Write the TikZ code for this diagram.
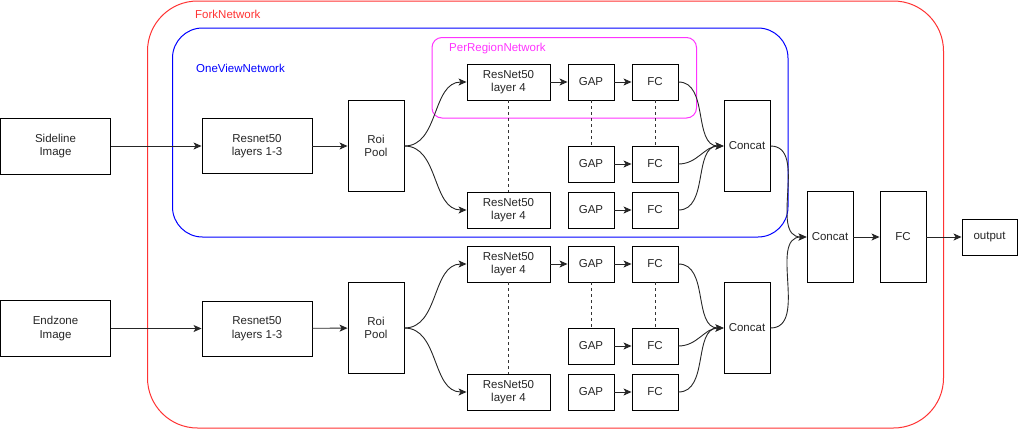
\documentclass[tikz,border=0pt]{standalone}
\usepackage{fontspec}
\setmainfont{Liberation Sans}
\usetikzlibrary{arrows.meta}
\definecolor{forkred}{HTML}{FF3333}
\definecolor{oneblue}{HTML}{0000FF}
\definecolor{permag}{HTML}{FF33FF}
\tikzset{
  box/.style={draw=black, line width=0.9pt, fill=white, align=center, inner sep=0pt,
    font=\fontsize{11.5}{13.5}\selectfont, text=black!85},
  lbl/.style={anchor=west, inner sep=0pt, font=\fontsize{11.5}{13.5}\selectfont},
  conn/.style={draw=black!85, line width=0.9pt, -{Stealth[length=8pt,width=7pt,inset=2pt]}},
  curv/.style={conn, out=0, in=180, looseness=1},
  dashl/.style={draw=black!80, line width=0.8pt, dash pattern=on 3pt off 3pt},
}
\begin{document}
\begin{tikzpicture}[x=1pt,y=-1pt]
\useasboundingbox (0,0) rectangle (1018,429);
% containers
\draw[forkred, line width=1pt, rounded corners=50pt] (147.5,1) rectangle (943.5,428);
\draw[oneblue, line width=1pt, rounded corners=30pt] (172.5,28) rectangle (788,237);
\draw[permag, line width=1pt, rounded corners=10pt] (432,37.5) rectangle (696.5,118);
\node[lbl, text=forkred] (lfork) at (195,14) {ForkNetwork};
\node[lbl, text=oneblue] (lone) at (196,68) {OneViewNetwork};
\node[lbl, text=permag] (lper) at (449,49) {PerRegionNetwork};

% top view
\node[box, minimum width=110, minimum height=56] (side) at (55.5,146) {Sideline\\Image};
\node[box, minimum width=110, minimum height=55] (resa) at (257,146) {Resnet50\\layers 1-3};
\node[box, minimum width=56, minimum height=91] (roia) at (376,146) {Roi\\Pool};
\node[box, minimum width=83, minimum height=36] (ra1) at (508.5,82) {ResNet50\\layer 4};
\node[box, minimum width=46, minimum height=36] (ga1) at (591,82) {GAP};
\node[box, minimum width=46, minimum height=36] (fa1) at (655,82) {FC};
\node[box, minimum width=46, minimum height=36] (ga2) at (591,164) {GAP};
\node[box, minimum width=46, minimum height=36] (fa2) at (655,164) {FC};
\node[box, minimum width=83, minimum height=36] (ra3) at (508.5,210) {ResNet50\\layer 4};
\node[box, minimum width=46, minimum height=36] (ga3) at (591,210) {GAP};
\node[box, minimum width=46, minimum height=36] (fa3) at (655,210) {FC};
\node[box, minimum width=46, minimum height=91] (cata) at (747,146) {Concat};

% bottom view
\node[box, minimum width=110, minimum height=56] (endz) at (55.5,328.5) {Endzone\\Image};
\node[box, minimum width=110, minimum height=55] (resb) at (257,328.5) {Resnet50\\layers 1-3};
\node[box, minimum width=56, minimum height=91] (roib) at (376,328) {Roi\\Pool};
\node[box, minimum width=83, minimum height=36] (rb1) at (508.5,264) {ResNet50\\layer 4};
\node[box, minimum width=46, minimum height=36] (gb1) at (591,264) {GAP};
\node[box, minimum width=46, minimum height=36] (fb1) at (655,264) {FC};
\node[box, minimum width=46, minimum height=36] (gb2) at (591,346) {GAP};
\node[box, minimum width=46, minimum height=36] (fb2) at (655,346) {FC};
\node[box, minimum width=83, minimum height=36] (rb3) at (508.5,392) {ResNet50\\layer 4};
\node[box, minimum width=46, minimum height=36] (gb3) at (591,392) {GAP};
\node[box, minimum width=46, minimum height=36] (fb3) at (655,392) {FC};
\node[box, minimum width=46, minimum height=91] (catb) at (747,328) {Concat};

% head
\node[box, minimum width=46, minimum height=91] (catc) at (830,237) {Concat};
\node[box, minimum width=46, minimum height=91] (fcc) at (903,237) {FC};
\node[box, minimum width=55, minimum height=36] (outp) at (989.5,237) {output};

% connectors top
\draw[conn] (side) -- (resa);
\draw[conn] (resa) -- (roia);
\draw[curv] (roia.east) to (ra1.west);
\draw[curv] (roia.east) to (ra3.west);
\draw[conn] (ra1) -- (ga1);
\draw[conn] (ga1) -- (fa1);
\draw[conn] (ga2) -- (fa2);
\draw[conn] (ga3) -- (fa3);
\draw[curv] (fa1.east) to (cata.west);
\draw[curv] (fa2.east) to (cata.west);
\draw[curv] (fa3.east) to (cata.west);
\draw[dashl] (ra1) -- (ra3);
\draw[dashl] (ga1) -- (ga2);
\draw[dashl] (fa1) -- (fa2);

% connectors bottom
\draw[conn] (endz) -- (resb);
\draw[conn] (resb) -- (roib);
\draw[curv] (roib.east) to (rb1.west);
\draw[curv] (roib.east) to (rb3.west);
\draw[conn] (rb1) -- (gb1);
\draw[conn] (gb1) -- (fb1);
\draw[conn] (gb2) -- (fb2);
\draw[conn] (gb3) -- (fb3);
\draw[curv] (fb1.east) to (catb.west);
\draw[curv] (fb2.east) to (catb.west);
\draw[curv] (fb3.east) to (catb.west);
\draw[dashl] (rb1) -- (rb3);
\draw[dashl] (gb1) -- (gb2);
\draw[dashl] (fb1) -- (fb2);

% head connectors
\draw[curv] (cata.east) to (catc.west);
\draw[curv] (catb.east) to (catc.west);
\draw[conn] (catc) -- (fcc);
\draw[conn] (fcc) -- (outp);
\end{tikzpicture}
\end{document}
